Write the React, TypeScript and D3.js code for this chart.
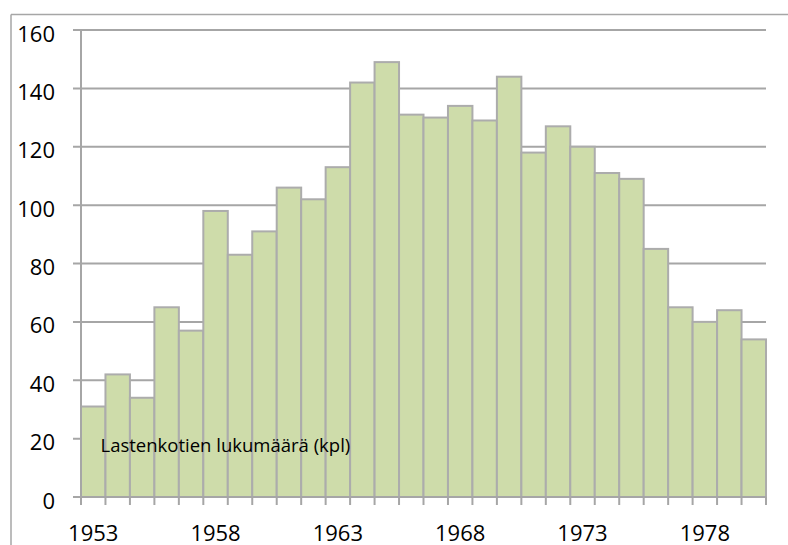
import React from "react";
import * as d3 from "d3";

const years: number[] = [
  1953, 1954, 1955, 1956, 1957, 1958, 1959, 1960, 1961, 1962, 1963, 1964, 1965, 1966,
  1967, 1968, 1969, 1970, 1971, 1972, 1973, 1974, 1975, 1976, 1977, 1978, 1979, 1980,
];
const counts: number[] = [
  31, 42, 34, 65, 57, 98, 83, 91, 106, 102, 113, 142, 149, 131,
  130, 134, 129, 144, 118, 127, 120, 111, 109, 85, 65, 60, 64, 54,
];
const yTicks: number[] = [0, 20, 40, 60, 80, 100, 120, 140, 160];
const xLabelYears: number[] = [1953, 1958, 1963, 1968, 1973, 1978];
const seriesLabel = "Lastenkotien lukumäärä (kpl)";

const W = 788;
const H = 545;
const left = 81;
const right = 766;
const top = 30;
const bottom = 497;
const gray = "#a6a6a6";
const font = "'Open Sans', sans-serif";

export default function App() {
  const x = d3
    .scaleBand<number>()
    .domain(years)
    .range([left, right])
    .paddingInner(0)
    .paddingOuter(0);
  const y = d3.scaleLinear().domain([0, 160]).range([bottom, top]);
  const bw = x.bandwidth();
  const boundaries = d3.range(years.length + 1).map((i) => left + i * bw);

  return (
    <svg
      width={W}
      height={H}
      style={{ position: "absolute", left: 0, top: 0, display: "block", background: "#fff" }}
    >
      {/* outer frame */}
      <line x1={11} y1={14.5} x2={W} y2={14.5} stroke={gray} strokeWidth={1.5} />
      <line x1={11} y1={14.5} x2={11} y2={H} stroke={gray} strokeWidth={1.5} />

      {/* gridlines */}
      {yTicks.map((t) => (
        <line key={"g" + t} x1={73} x2={right} y1={y(t)} y2={y(t)} stroke={gray} strokeWidth={2} />
      ))}

      {/* bars */}
      {years.map((yr, i) => (
        <rect
          key={yr}
          x={x(yr)}
          y={y(counts[i])}
          width={bw}
          height={bottom - y(counts[i])}
          fill="#cedcaa"
          stroke="#acacac"
          strokeWidth={2}
        />
      ))}

      {/* y axis line */}
      <line x1={left} x2={left} y1={top} y2={bottom} stroke={gray} strokeWidth={2} />
      {/* x axis line */}
      <line x1={left} x2={right} y1={bottom} y2={bottom} stroke={gray} strokeWidth={2} />
      {/* x ticks */}
      {boundaries.map((bx, i) => (
        <line key={"xt" + i} x1={bx} x2={bx} y1={bottom} y2={bottom + 8} stroke={gray} strokeWidth={2} />
      ))}

      {/* y labels */}
      {yTicks.map((t) => (
        <text
          key={"yl" + t}
          x={55}
          y={y(t) + 11.5}
          textAnchor="end"
          fontFamily={font}
          fontSize={22}
          fill="#000"
        >
          {t}
        </text>
      ))}

      {/* x labels */}
      {xLabelYears.map((yr) => (
        <text
          key={"xl" + yr}
          x={(x(yr) as number) + bw / 2}
          y={bottom + 43.5}
          textAnchor="middle"
          fontFamily={font}
          fontSize={22}
          fill="#000"
        >
          {yr}
        </text>
      ))}

      {/* series label */}
      <text x={100.5} y={452.3} fontFamily={font} fontSize={18.5} fill="#000">
        {seriesLabel}
      </text>
    </svg>
  );
}
